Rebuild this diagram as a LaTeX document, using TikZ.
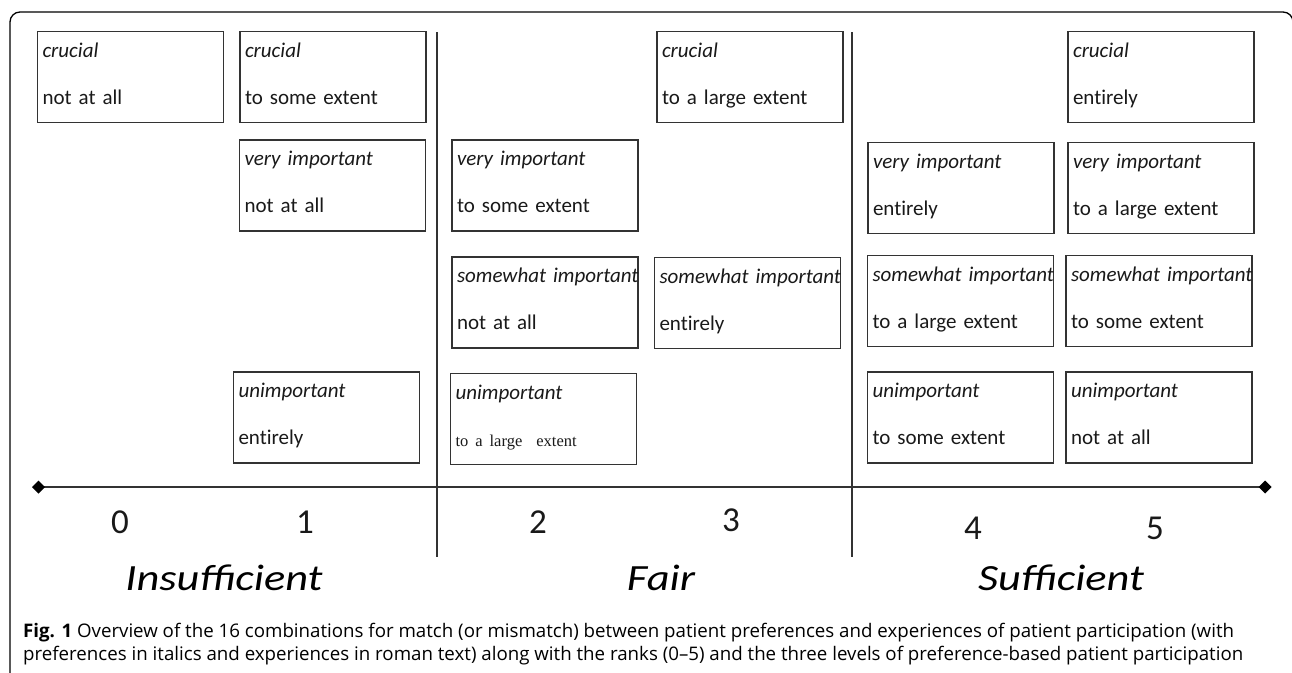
\documentclass[tikz,border=0pt]{standalone}
\usepackage{fontspec}
\setmainfont{Carlito}[Ligatures=NoCommon]
\newfontfamily\capfont{Open Sans}
\newfontfamily\levelfont[FakeStretch=1.2]{Carlito}
\newfontfamily\smallserif{Liberation Serif}
\usetikzlibrary{arrows.meta}

% preference (italic) over experience (roman)
\newcommand{\combo}[2]{\mbox{\textit{#1}}\\[22pt]#2}

\tikzset{
  combobox/.style={draw=black!80, line width=1.6pt, minimum width=186pt, minimum height=91pt,
    text width=176pt, inner xsep=5pt, align=left, text height=15pt, text depth=55pt,
    font=\fontsize{21}{25}\selectfont, text=black!90},
  divider/.style={draw=black!80, line width=1.6pt},
  rank/.style={anchor=base, font=\fontsize{35}{40}\selectfont, text=black!90},
  level/.style={anchor=base, font=\levelfont\itshape\fontsize{37}{40}\selectfont},
  caption/.style={anchor=base west, inner sep=0pt, font=\capfont\fontsize{18.7}{23}\selectfont}
}

\begin{document}
\begin{tikzpicture}[x=1pt, y=-1pt]
  \useasboundingbox (0,0) rectangle (1292,672);

  % Frame
  \draw[line width=1.3pt, rounded corners=10pt] (10,700) -- (10,12) -- (1293,12) -- (1293,700);

  % Nodes
  \node at (130.5,77) (crNot) [combobox] {\combo{crucial}{not at all}};
  \node at (333,77) (crSome) [combobox] {\combo{crucial}{to some extent}};
  \node at (750,77) (crLarge) [combobox] {\combo{crucial}{to a large extent}};
  \node at (1161,77) (crEnt) [combobox] {\combo{crucial}{entirely}};

  \node at (332.5,185.5) (viNot) [combobox] {\combo{very important}{not at all}};
  \node at (545,185.5) (viSome) [combobox] {\combo{very important}{to some extent}};
  \node at (961,188) (viEnt) [combobox] {\combo{very important}{entirely}};
  \node at (1161,188) (viLarge) [combobox] {\combo{very important}{to a large extent}};

  \node at (545,302.5) (swNot) [combobox] {\combo{somewhat important}{not at all}};
  \node at (747.5,303) (swEnt) [combobox] {\combo{somewhat important}{entirely}};
  \node at (960.5,301) (swLarge) [combobox] {\combo{somewhat important}{to a large extent}};
  \node at (1159,301) (swSome) [combobox] {\combo{somewhat important}{to some extent}};

  \node at (326.5,417.5) (unEnt) [combobox] {\combo{unimportant}{entirely}};
  \node at (543.5,419) (unLarge) [combobox] {\combo{unimportant}{{\smallserif\fontsize{16.5}{18}\selectfont to a large\ \ extent}}};
  \node at (960.5,417.5) (unSome) [combobox] {\combo{unimportant}{to some extent}};
  \node at (1159,417.5) (unNot) [combobox] {\combo{unimportant}{not at all}};

  % Axis and dividers
  \coordinate (axL) at (32,487);
  \coordinate (axR) at (1271.5,487);
  \coordinate (divAtop) at (437,32);
  \coordinate (divAbot) at (437,557);
  \coordinate (divBtop) at (852,32);
  \coordinate (divBbot) at (852,557);
  \draw[line width=2.2pt, draw=black!80, {Diamond[length=13pt,width=13pt,color=black]}-{Diamond[length=13pt,width=13pt,color=black]}] (axL) -- (axR);
  \draw[divider] (divAtop) -- (divAbot);
  \draw[divider] (divBtop) -- (divBbot);

  % Ranks
  \node at (120,533) (r0) [rank] {0};
  \node at (305,533) (r1) [rank] {1};
  \node at (538,533) (r2) [rank] {2};
  \node at (731,531) (r3) [rank] {3};
  \node at (973,539) (r4) [rank] {4};
  \node at (1155,539) (r5) [rank] {5};

  % Levels
  \node at (224,590) (insuff) [level] {Insufficient};
  \node at (661,590) (fair) [level] {Fair};
  \node at (1061,590) (suff) [level] {Sufficient};

  % Caption
  \node at (23,637) (capA) [caption] {\textbf{Fig. 1} Overview of the 16 combinations for match (or mismatch) between patient preferences and experiences of patient participation (with};
  \node at (23,660) (capB) [caption] {preferences in italics and experiences in roman text) along with the ranks (0–5) and the three levels of preference-based patient participation};
\end{tikzpicture}
\end{document}
